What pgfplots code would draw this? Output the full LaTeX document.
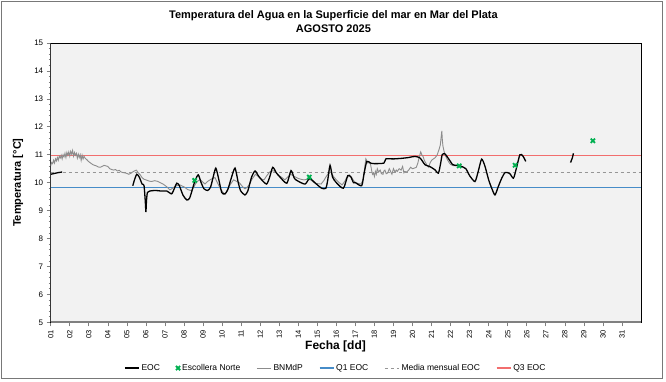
\documentclass[border=0pt]{standalone}
\usepackage{pgfplots}
\pgfplotsset{compat=1.18}
\usepackage{fontspec}
\setmainfont{Liberation Sans}
\definecolor{bggray}{HTML}{F2F2F2}
\definecolor{bngray}{HTML}{8C8C8C}
\definecolor{medgray}{HTML}{969696}
\definecolor{escgreen}{HTML}{00B050}
\definecolor{framegray}{HTML}{787878}
\definecolor{qoneblue}{RGB}{70,140,200}
\definecolor{qthreered}{RGB}{242,110,110}
\begin{document}
\begin{tikzpicture}[x=1pt,y=1pt]
\useasboundingbox (0,0) rectangle (666,382);
\draw[framegray, line width=0.8pt] (1,4) rectangle (662,381);
\begin{axis}[
  at={(50.7pt,59.7pt)}, anchor=south west,
  scale only axis, width=590.3pt, height=279.3pt,
  xmin=1, xmax=32, ymin=5, ymax=15,
  axis background/.style={fill=bggray},
  axis line style={black, line width=0.8pt},
  xtick={1,...,31},
  xticklabels={01,02,03,04,05,06,07,08,09,10,11,12,13,14,15,16,17,18,19,20,21,22,23,24,25,26,27,28,29,30,31},
  xticklabel style={rotate=90, anchor=east, font=\fontsize{7.5}{8}\selectfont},
  ytick={5,...,15},
  minor y tick num=4,
  yticklabel style={font=\fontsize{8}{9}\selectfont},
  /pgf/number format/assume math mode=true,
  tick align=outside,
  major tick length=4pt, minor tick length=2pt,
  tick style={gray, line width=0.6pt},
  xtick pos=bottom, ytick pos=left,
  xlabel={Fecha [dd]},
  xlabel style={at={(axis description cs:0.4825,-0.088)}, anchor=center, font=\bfseries\fontsize{12}{14}\selectfont},
  ylabel={Temperatura [°C]},
  ylabel style={at={(axis description cs:-0.0554,0.5)}, anchor=center, font=\bfseries\fontsize{11}{13}\selectfont},
  title={Temperatura del Agua en la Superficie del mar en Mar del Plata\\AGOSTO 2025},
  title style={at={(axis description cs:0.479,1.0555)}, anchor=center, align=center, font=\bfseries\fontsize{11}{14}\selectfont},
  legend columns=6,
  legend style={at={(axis description cs:0.483,-0.164)}, anchor=center, draw=none, fill=none,
    font=\fontsize{8.5}{10}\selectfont, /tikz/every even column/.append style={column sep=14pt}},
  legend image code/.code={\draw[mark repeat=2,mark phase=2,#1] plot coordinates {(0pt,0pt) (7pt,0pt) (14pt,0pt)};},
  unbounded coords=jump,
]
\addlegendimage{color=black, line width=1.4pt}
\addlegendentry{EOC}
\addlegendimage{only marks, mark=x, mark size=3pt, color=escgreen, line width=1.8pt}
\addlegendentry{Escollera Norte}
\addlegendimage{color=bngray, line width=1.2pt}
\addlegendentry{BNMdP}
\addlegendimage{color=qoneblue, line width=1.4pt}
\addlegendentry{Q1 EOC}
\addlegendimage{color=medgray, dashed, line width=1.2pt}
\addlegendentry{Media mensual EOC}
\addlegendimage{color=qthreered, line width=1.4pt}
\addlegendentry{Q3 EOC}

% Q1, median, Q3 as sampled constant series
\addplot[color=qoneblue, line width=1.5pt, forget plot] table {
x y
1 9.83
4 9.83
8 9.83
12 9.83
16 9.83
20 9.83
24 9.83
28 9.83
32 9.83
};
\addplot[color=medgray, dashed, line width=1.1pt, forget plot] coordinates {(1,10.35) (32,10.35)};
\addplot[color=qthreered, line width=1.5pt, forget plot] table {
x y
1 10.97
4 10.97
8 10.97
12 10.97
16 10.97
20 10.97
24 10.97
28 10.97
32 10.97
};

% BNMdP
\addplot[color=bngray, line width=0.9pt, forget plot] coordinates {
(1.0,10.6)(1.05,10.72)(1.1,10.68)(1.15,10.8)(1.2,10.7)(1.25,10.85)(1.3,10.78)(1.35,10.9)(1.4,10.8)(1.45,10.95)
(1.5,10.88)(1.55,10.98)(1.6,10.85)(1.65,11.0)(1.7,10.92)(1.75,11.05)(1.8,10.9)(1.85,11.08)(1.9,10.98)(1.95,11.1)
(2.0,10.95)(2.05,11.12)(2.1,11.02)(2.15,11.15)(2.2,10.95)(2.25,11.08)(2.3,10.98)(2.35,11.05)(2.4,10.88)(2.45,11.02)
(2.5,10.9)(2.55,11.0)(2.6,10.8)(2.65,10.98)(2.7,10.85)(2.75,10.95)(2.8,10.88)(2.9,10.82)(3.0,10.75)(3.1,10.7)
(3.2,10.65)(3.3,10.62)(3.4,10.6)(3.5,10.56)(3.6,10.55)(3.7,10.58)(3.8,10.62)(3.9,10.6)(4.0,10.58)(4.1,10.5)
(4.2,10.47)(4.3,10.45)(4.4,10.47)(4.5,10.42)(4.6,10.44)(4.7,10.38)(4.8,10.36)(4.9,10.35)(5.0,10.33)(5.1,10.3)
(5.2,10.33)(5.3,10.38)(5.4,10.42)(5.5,10.45)(5.6,10.35)(5.7,10.28)(5.8,10.18)(5.9,10.12)(6.0,10.1)(6.15,10.06)
(6.3,10.04)(6.45,10.07)(6.6,10.05)(6.75,10.0)(6.9,9.95)(7.0,9.9)(7.1,9.85)(7.2,9.78)(7.26,9.74)(7.4,9.8)
(7.5,9.85)(7.65,9.9)(7.78,9.92)(7.9,9.88)(8.0,9.85)(8.1,9.8)(8.2,9.75)(8.3,9.73)(8.4,9.72)(8.5,9.82)
(8.6,9.95)(8.7,10.05)(8.84,10.1)(8.95,10.05)(9.1,9.95)(9.25,10.05)(9.37,10.1)(9.5,10.15)(9.63,10.18)(9.75,10.0)
(9.9,9.8)(10.05,9.65)(10.16,9.58)(10.25,9.7)(10.35,9.85)(10.5,10.0)(10.6,10.1)(10.75,10.05)(10.9,10.0)(11.05,9.88)
(11.2,9.78)(11.3,9.82)(11.45,9.95)(11.55,10.1)(11.65,10.2)(11.75,10.3)(11.85,10.25)(12.0,10.15)(12.1,10.12)(12.2,10.1)
(12.35,10.25)(12.5,10.38)(12.6,10.42)(12.75,10.42)(12.9,10.32)(13.0,10.25)(13.15,10.18)(13.3,10.1)(13.45,10.2)(13.6,10.3)
(13.72,10.25)(13.85,10.2)(14.0,10.15)(14.15,10.12)(14.3,10.1)(14.5,10.12)(14.65,10.1)(14.8,10.02)(14.9,9.98)(15.05,9.96)
(15.2,9.95)(15.35,10.08)(15.45,10.2)(15.55,10.3)(15.6,10.33)(15.7,10.38)(15.75,10.35)(15.85,10.22)(16.0,10.1)(16.15,10.0)
(16.3,9.92)(16.45,10.05)(16.55,10.2)(16.7,10.22)(16.8,10.2)(16.9,10.08)(17.0,10.0)(17.15,9.97)(17.3,9.95)(17.4,10.1)
(17.45,10.3)(17.5,10.6)(17.55,10.85)(17.6,10.78)(17.65,10.7)(17.72,10.72)(17.8,10.65)(17.85,10.45)(17.9,10.3)(17.95,10.35)
(18.0,10.22)(18.05,10.4)(18.1,10.3)(18.15,10.5)(18.22,10.38)(18.3,10.45)(18.37,10.32)(18.45,10.3)(18.5,10.42)(18.55,10.45)
(18.62,10.32)(18.7,10.35)(18.78,10.5)(18.85,10.4)(18.92,10.3)(19.0,10.5)(19.08,10.38)(19.15,10.45)(19.2,10.4)(19.3,10.5)
(19.4,10.45)(19.48,10.58)(19.55,10.35)(19.6,10.4)(19.7,10.38)(19.8,10.45)(19.9,10.55)(20.0,10.5)(20.1,10.52)(20.2,10.55)
(20.28,10.7)(20.35,10.9)(20.43,11.1)(20.5,10.98)(20.55,10.95)(20.62,10.8)(20.7,10.7)(20.78,10.6)(20.85,10.55)(20.92,10.7)
(21.0,10.8)(21.1,10.85)(21.2,10.9)(21.3,11.0)(21.4,11.2)(21.46,11.35)(21.5,11.6)(21.54,11.85)(21.57,11.5)(21.6,11.3)
(21.65,11.15)(21.7,11.0)(21.78,10.9)(21.85,10.8)(21.92,10.72)(22.0,10.65)(22.1,10.62)(22.2,10.6)
};

% EOC
\addplot[color=black, line width=1.3pt, smooth, tension=0.4, forget plot] coordinates {
(1.0,10.30)(1.2,10.33)(1.4,10.36)(1.6,10.38)
(3.0,nan)
(5.31,9.89)(5.4,10.1)(5.52,10.30)(5.65,10.2)(5.8,9.95)(5.9,9.9)(5.97,9.3)(6.0,8.95)(6.03,9.35)(6.08,9.65)
(6.2,9.70)(6.5,9.72)(6.8,9.70)(7.1,9.70)(7.35,9.60)(7.5,9.8)(7.62,9.98)(7.75,9.9)(7.95,9.55)(8.15,9.38)
(8.3,9.45)(8.5,9.9)(8.6,10.1)(8.75,10.28)(8.9,10.0)(9.05,9.78)(9.25,9.72)(9.4,9.85)(9.55,10.25)(9.67,10.52)
(9.8,10.2)(9.98,9.65)(10.15,9.6)(10.3,9.75)(10.5,10.2)(10.68,10.52)(10.85,10.0)(10.98,9.7)(11.2,9.56)(11.35,9.7)
(11.55,10.2)(11.73,10.42)(11.9,10.25)(12.08,10.1)(12.34,9.95)(12.5,10.2)(12.66,10.55)(12.85,10.35)(13.04,10.2)(13.4,9.98)
(13.62,10.43)(13.8,10.15)(14.0,10.05)(14.36,9.95)(14.6,10.15)(14.9,9.98)(15.23,9.8)(15.45,9.8)(15.55,10.1)(15.67,10.62)
(15.8,10.2)(16.0,10.0)(16.37,9.8)(16.6,10.25)(16.75,10.22)(16.9,10.0)(17.0,10.0)(17.33,9.89)(17.45,10.3)(17.6,10.76)
(17.8,10.7)(18.0,10.68)(18.5,10.7)(18.6,10.85)(19.0,10.85)(19.43,10.87)(19.8,10.9)(20.13,10.94)(20.4,10.88)(20.66,10.64)
(20.9,10.58)(21.18,10.46)(21.36,10.34)(21.48,10.7)(21.56,11.0)(21.7,11.03)(21.9,10.85)(22.1,10.65)(22.23,10.62)(22.5,10.6)
(22.8,10.5)(23.0,10.25)(23.28,10.04)(23.45,10.4)(23.63,10.84)(23.8,10.6)(24.0,10.1)(24.16,9.8)(24.33,9.56)(24.5,9.85)
(24.68,10.15)(24.86,10.36)(25.1,10.33)(25.3,10.16)(25.45,10.5)(25.64,11.0)(25.8,10.95)(25.95,10.76)
(27.0,nan)
(28.3,10.72)(28.4,10.9)(28.45,11.05)
};

% Escollera Norte
\addplot[only marks, mark=x, mark size=3pt, color=escgreen, line width=1.8pt, forget plot] coordinates {
(8.56,10.08)(14.58,10.2)(22.45,10.6)(25.39,10.62)(29.47,11.5)
};

\draw[gray, line width=1.6pt] (rel axis cs:0,0) -- (rel axis cs:1,0);
\draw[gray!80, line width=0.8pt] (rel axis cs:0,0) -- (rel axis cs:0,1);
\end{axis}
\end{tikzpicture}
\end{document}
